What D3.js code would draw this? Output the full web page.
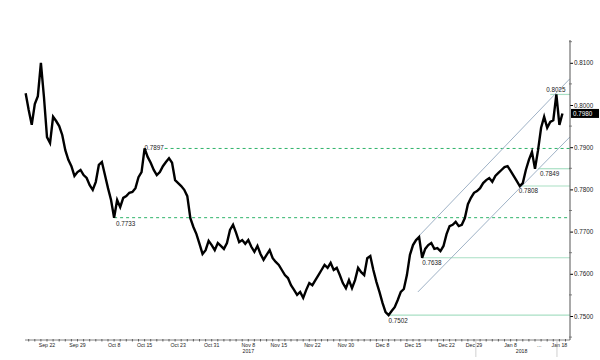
<!DOCTYPE html>
<html><head><meta charset="utf-8">
<script src="https://cdn.jsdelivr.net/npm/d3@7"></script>
<style>html,body{margin:0;padding:0;background:#fff;}svg{display:block;}</style>
</head><body>
<svg id="c" width="600" height="360"></svg>
<script>
// ---- data (trading-day index; Sep 22 2017 = 0, half-day steps) ----
const startDay = -3.5;
const stepDay = 0.5;
const closes = [
0.8028,0.7988,0.7953,0.8002,0.8021,0.8100,0.8019,0.7924,0.7910,0.7972,
0.7962,0.7950,0.7929,0.7893,0.7870,0.7855,0.7832,0.7841,0.7846,0.7834,
0.7827,0.7810,0.7799,0.7818,0.7858,0.7865,0.7834,0.7803,0.7775,0.7733,
0.7775,0.7758,0.7780,0.7784,0.7792,0.7794,0.7803,0.7829,0.7841,0.7897,
0.7877,0.7863,0.7846,0.7834,0.7841,0.7855,0.7865,0.7874,0.7863,0.7822,
0.7815,0.7808,0.7799,0.7784,0.7732,0.7711,0.7694,0.7671,0.7647,0.7656,
0.7678,0.7668,0.7656,0.7673,0.7666,0.7659,0.7673,0.7704,0.7716,0.7697,
0.7675,0.7680,0.7671,0.7680,0.7664,0.7652,0.7666,0.7647,0.7633,0.7645,
0.7656,0.7637,0.7628,0.7621,0.7609,0.7597,0.7590,0.7573,0.7562,0.7550,
0.7557,0.7543,0.7562,0.7578,0.7573,0.7585,0.7597,0.7609,0.7621,0.7614,
0.7626,0.7609,0.7614,0.7597,0.7578,0.7566,0.7585,0.7566,0.7585,0.7614,
0.7604,0.7597,0.7637,0.7642,0.7609,0.7581,0.7557,0.7531,0.7509,0.7502,
0.7512,0.7521,0.7538,0.7557,0.7564,0.7597,0.7645,0.7668,0.7680,0.7687,
0.7638,0.7659,0.7668,0.7673,0.7659,0.7661,0.7654,0.7666,0.7694,0.7713,
0.7716,0.7723,0.7713,0.7716,0.7732,0.7765,0.7780,0.7792,0.7796,0.7803,
0.7815,0.7822,0.7827,0.7818,0.7832,0.7839,0.7846,0.7853,0.7855,0.7844,
0.7832,0.7820,0.7808,0.7815,0.7846,0.7870,0.7889,0.7849,0.7893,0.7946,
0.7972,0.7946,0.7960,0.7964,0.8025,0.7953,0.7980
];
const lastPrice = 0.7980;

const yTicks = [0.7500,0.7600,0.7700,0.7800,0.7900,0.8000,0.8100];
const xTickDays = [0,5,11,16,21.5,27,33,38,43.5,49,55,60,65.5,70,76,80.7,84];
const xTickLabels = ["Sep 22","Sep 29","Oct 8","Oct 15","Oct 23","Oct 31","Nov 8","Nov 15","Nov 22","Nov 30","Dec 8","Dec 15","Dec 22","Dec 29","Jan 8","...","Jan 18"];
const yearLabels = ["2017","2018"];
const yearDays = [33,77.8];
const separatorDays = [70.3,83.6];

const dashedLevels = [0.7897,0.7733];
const dashedStartDays = [16,11];
const solidLevels = [0.7502,0.7638,0.7808,0.7849,0.8025];
const solidStartDays = [56,61.5,77.5,80.5,82.5];

const channelDays = [60.8,85.7];
const channelUpper = [0.7687,0.8062];
const channelLower = [0.7557,0.7924];

// ---- scales ----
const svg = d3.select("#c");
const x = d3.scaleLinear().domain([0,84]).range([47,559.4]);
const y = d3.scaleLinear().domain([0.75,0.81]).range([316,62.8]);
const axisX = 570, axisTop = 40, axisBottom = 340, plotLeft = 25;
const font = "Liberation Sans, Arial, sans-serif";

const dashCol = "#2fb36a", solidCol = "#a9dfc4", chanCol = "#9fb2c6";

const dashedLabelDx = [0,2];
dashedLevels.forEach((v,i)=>{
  const x0 = x(dashedStartDays[i]);
  const isTopLabel = i===0;
  svg.append("line").attr("x1", isTopLabel ? x0+20 : x0).attr("x2", axisX)
    .attr("y1", y(v)).attr("y2", y(v))
    .attr("stroke", dashCol).attr("stroke-width",1).attr("stroke-dasharray","3,3");
  svg.append("text").attr("x", x0 + dashedLabelDx[i]).attr("y", isTopLabel ? y(v)+2 : y(v)+8)
    .attr("font-family",font).attr("font-size",6.3).attr("fill","#222")
    .text(d3.format(".4f")(v));
});
solidLevels.forEach((v,i)=>{
  const x0 = x(solidStartDays[i]);
  svg.append("line").attr("x1", x0).attr("x2", axisX)
    .attr("y1", y(v)).attr("y2", y(v))
    .attr("stroke", solidCol).attr("stroke-width",1.2);
});
const solidLabelDx = [0,0,-1,2,-4];
const solidLabelDy = [8,7,7,7,-2];
solidLevels.forEach((v,i)=>{
  svg.append("text").attr("x", x(solidStartDays[i]) + solidLabelDx[i]).attr("y", y(v)+solidLabelDy[i])
    .attr("font-family",font).attr("font-size",6.3).attr("fill","#222")
    .text(d3.format(".4f")(v));
});

// channel
[channelUpper, channelLower].forEach(arr=>{
  svg.append("line").attr("x1", x(channelDays[0])).attr("x2", x(channelDays[1]))
    .attr("y1", y(arr[0])).attr("y2", y(arr[1]))
    .attr("stroke", chanCol).attr("stroke-width",1);
});

// price line
const pts = closes.map((v,i)=>[startDay + i*stepDay, v]);
svg.append("path").datum(pts)
  .attr("fill","none").attr("stroke","#000").attr("stroke-width",2.4).attr("stroke-linejoin","miter")
  .attr("d", d3.line().x(d=>x(d[0])).y(d=>y(d[1])));

// right axis
const yAxis = d3.axisRight(y).tickValues(yTicks).tickSize(3).tickFormat(d3.format(".4f"));
const gy = svg.append("g").attr("transform",`translate(${axisX},0)`).call(yAxis);
gy.select(".domain").remove();
gy.selectAll("line").attr("stroke","#000");
gy.selectAll("text").attr("font-family",font).attr("font-size",6.3).attr("fill","#222").attr("x",4);
svg.append("line").attr("x1",axisX).attr("x2",axisX).attr("y1",axisTop).attr("y2",axisBottom)
  .attr("stroke","#555").attr("stroke-width",1);
svg.selectAll(".mn").data(d3.range(0.7350,0.8160,0.01)).enter().append("line")
  .attr("x1",axisX-1).attr("x2",axisX+2).attr("y1",d=>y(d)).attr("y2",d=>y(d))
  .attr("stroke","#666").attr("stroke-width",0.8)
  .filter(d=>y(d)<axisTop||y(d)>axisBottom).remove();

// bottom axis
svg.append("line").attr("x1",plotLeft).attr("x2",axisX).attr("y1",axisBottom).attr("y2",axisBottom)
  .attr("stroke","#666").attr("stroke-width",0.8);
const dayTicks = d3.range(-3,86,1);
svg.selectAll(".dt").data(dayTicks).enter().append("line")
  .attr("x1",d=>x(d)).attr("x2",d=>x(d)).attr("y1",axisBottom-1).attr("y2",axisBottom+1.5)
  .attr("stroke","#444").attr("stroke-width",0.8);
xTickLabels.forEach((t,i)=>{
  svg.append("text").attr("x",x(xTickDays[i])).attr("y",axisBottom+7)
    .attr("text-anchor","middle").attr("font-family",font).attr("font-size",5.2).attr("fill","#222").text(t);
});
yearLabels.forEach((t,i)=>{
  svg.append("text").attr("x",x(yearDays[i])).attr("y",axisBottom+13)
    .attr("text-anchor","middle").attr("font-family",font).attr("font-size",5.2).attr("fill","#222").text(t);
});
separatorDays.forEach(d=>{
  svg.append("line").attr("x1",x(d)).attr("x2",x(d)).attr("y1",axisBottom+1).attr("y2",axisBottom+17)
    .attr("stroke","#bbb").attr("stroke-width",0.7);
});

// last price tag
svg.append("rect").attr("x",axisX+1).attr("y",y(lastPrice)-4.5).attr("width",28).attr("height",9).attr("fill","#000");
svg.append("text").attr("x",axisX+3).attr("y",y(lastPrice)+2.2)
  .attr("font-family",font).attr("font-size",6.3).attr("fill","#fff").text(d3.format(".4f")(lastPrice));
</script>
</body></html>
